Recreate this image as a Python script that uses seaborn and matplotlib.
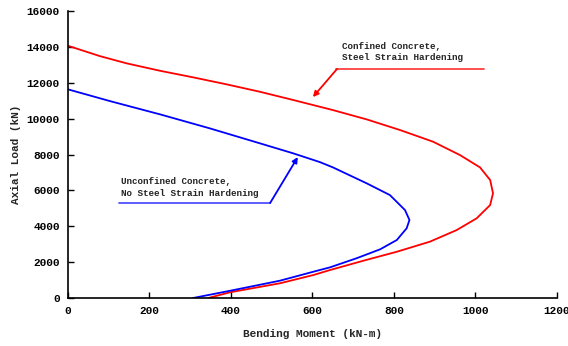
import matplotlib
matplotlib.use("Agg")
import matplotlib.pyplot as plt
import seaborn as sns
import pandas as pd

# Interaction diagram points (moment kN-m, axial load kN)
confined_moment = [0, 78, 144, 226, 307, 389, 471, 553, 650, 733, 815, 896, 962,
                   1011, 1036, 1043, 1036, 1003, 954, 888, 807, 725, 643, 602, 520, 398, 344]
confined_load = [14065, 13490, 13085, 12670, 12305, 11915, 11500, 11040, 10480, 9960,
                 9365, 8715, 7970, 7285, 6580, 5840, 5185, 4445, 3790, 3140, 2580, 2080,
                 1560, 1280, 820, 320, 0]

unconfined_moment = [0, 103, 226, 348, 471, 553, 618, 650, 733, 790, 827, 838, 831,
                     807, 766, 708, 643, 602, 520, 398, 307]
unconfined_load = [11635, 10980, 10240, 9460, 8625, 8065, 7580, 7285, 6395, 5740, 4905,
                   4350, 3885, 3235, 2715, 2215, 1710, 1465, 965, 405, 0]

x_ticks = [0, 200, 400, 600, 800, 1000, 1200]
y_ticks = [0, 2000, 4000, 6000, 8000, 10000, 12000, 14000, 16000]

sns.set_theme(style="white")
plt.rcParams["font.family"] = ["Liberation Mono", "DejaVu Sans Mono"]
plt.rcParams["font.weight"] = "bold"

df = pd.concat([
    pd.DataFrame({"M": confined_moment, "P": confined_load, "case": "confined"}),
    pd.DataFrame({"M": unconfined_moment, "P": unconfined_load, "case": "unconfined"}),
])

fig = plt.figure(figsize=(5.68, 3.46), dpi=100)
ax = fig.add_axes([0.1197, 0.1387, 0.8609, 0.8293])

sns.lineplot(data=df, x="M", y="P", hue="case", sort=False, estimator=None,
             palette={"confined": "#ff0000", "unconfined": "#0000ff"},
             linewidth=1.3, legend=False, ax=ax)

ax.set_xlim(0, 1200)
ax.set_ylim(0, 16000)
ax.set_xticks(x_ticks)
ax.set_yticks(y_ticks)
ax.tick_params(direction="in", length=4, width=1, labelsize=8, colors="black",
               left=True, bottom=True, pad=6)
for lbl in ax.get_xticklabels() + ax.get_yticklabels():
    lbl.set_fontweight("bold")
for side in ("top", "right"):
    ax.spines[side].set_visible(False)
for side in ("left", "bottom"):
    ax.spines[side].set_color("black")
    ax.spines[side].set_linewidth(1.2)

ax.set_xlabel("Bending Moment (kN-m)", fontsize=8, fontweight="bold", labelpad=9)
ax.set_ylabel("Axial Load (kN)", fontsize=8, fontweight="bold", labelpad=4)

# Curve annotations
ax.text(672, 14300, "Confined Concrete,\nSteel Strain Hardening", fontsize=6.7,
        fontweight="bold", va="top", ha="left", linespacing=1.3)
ax.plot([658, 1021], [12766, 12766], color="#ff4040", linewidth=1.3)
ax.annotate("", xy=(601, 11205), xytext=(660, 12766),
            arrowprops=dict(arrowstyle="-|>", color="#ff0000", lw=1.3,
                            mutation_scale=8, shrinkA=0, shrinkB=0))

ax.text(130, 6720, "Unconfined Concrete,\nNo Steel Strain Hardening", fontsize=6.7,
        fontweight="bold", va="top", ha="left", linespacing=1.3)
ax.plot([125, 496], [5296, 5296], color="#5050ff", linewidth=1.3)
ax.annotate("", xy=(564, 7860), xytext=(496, 5296),
            arrowprops=dict(arrowstyle="-|>", color="#0000ff", lw=1.3,
                            mutation_scale=8, shrinkA=0, shrinkB=0))

fig.savefig("out.png", dpi=100)
